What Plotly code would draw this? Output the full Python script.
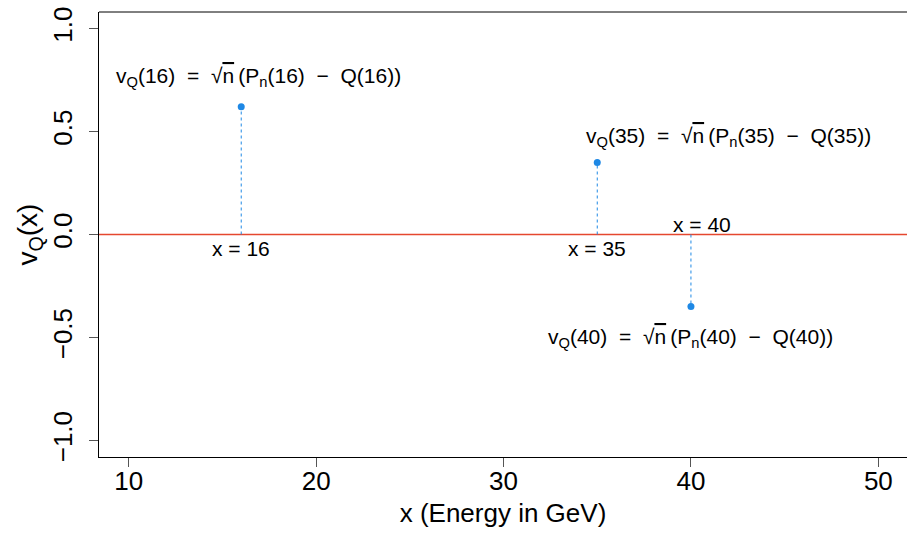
import plotly.graph_objects as go

# ---- data ----
x_points = [16, 35, 40]
v_values = [0.62, 0.35, -0.35]
x_ticks = [10, 20, 30, 40, 50]
y_ticks = [-1.0, -0.5, 0.0, 0.5, 1.0]
y_tick_labels = ["\u22121.0", "\u22120.5", "0.0", "0.5", "1.0"]
x_title = "x (Energy in GeV)"

FONT = "Liberation Sans, Arial, Helvetica, sans-serif"
BLUE = "#1E88E5"
RED = "#E5472F"

fig = go.Figure()

# dashed segments from zero to each point
for xp, vp in zip(x_points, v_values):
    fig.add_trace(go.Scatter(
        x=[xp, xp], y=[0, vp], mode="lines",
        line=dict(color=BLUE, width=1, dash="3px,3px"),
        showlegend=False, hoverinfo="skip"))

fig.add_trace(go.Scatter(
    x=x_points, y=v_values, mode="markers",
    marker=dict(color=BLUE, size=7),
    showlegend=False))

# horizontal zero line
fig.add_shape(type="line", xref="paper", yref="y", x0=0, x1=1, y0=0, y1=0,
              line=dict(color=RED, width=1.5), layer="below")
# top border of the box (right border lies just outside the canvas)
fig.add_shape(type="line", xref="paper", yref="paper", x0=0, x1=1, y0=1, y1=1,
              line=dict(color="black", width=1))

NB = "\u00a0"

def eq(v):
    return ("v<sub>Q</sub>(%d)%s=%s\u221A<span style='text-decoration:overline'>n</span>%s"
            "(P<sub>n</sub>(%d)%s\u2212%sQ(%d))" % (v, NB * 2, NB * 2, "\u2009", v, NB * 2, NB * 2, v))

# equation label positions (data coords) and x= label positions
eq_pos = [(16.9, 0.765), (41.98, 0.475), (40.0, -0.50)]
xl_pos = [(16.0, -0.066), (35.0, -0.068), (40.6, 0.05)]

for xp, (ex, ey), (lx, ly) in zip(x_points, eq_pos, xl_pos):
    fig.add_annotation(x=ex, y=ey, text=eq(xp), showarrow=False,
                       font=dict(family=FONT, size=21, color="black"),
                       xanchor="center", yanchor="middle")
    fig.add_annotation(x=lx, y=ly, text="x = %d" % xp, showarrow=False,
                       font=dict(family=FONT, size=21, color="black"),
                       xanchor="center", yanchor="middle")

fig.update_layout(
    width=907, height=533,
    margin=dict(l=99, r=0, t=12, b=76),
    paper_bgcolor="white", plot_bgcolor="white",
    font=dict(family=FONT, color="black"),
    xaxis=dict(
        range=[8.41, 51.53], tickvals=x_ticks, ticktext=[str(t) for t in x_ticks],
        showgrid=False, zeroline=False, showline=True, linecolor="black", linewidth=1,
        ticks="outside", ticklen=9, tickcolor="#555", tickwidth=1,
        ticklabelstandoff=-8,
        tickfont=dict(family=FONT, size=26, color="black"),
        title=dict(text=x_title, font=dict(family=FONT, size=26, color="black"), standoff=8),
    ),
    yaxis=dict(
        range=[-1.08, 1.08], tickvals=y_ticks, ticktext=y_tick_labels,
        tickangle=-90,
        showgrid=False, zeroline=False, showline=True, linecolor="black", linewidth=1,
        ticks="outside", ticklen=9, tickcolor="#555", tickwidth=1,
        ticklabelstandoff=7,
        tickfont=dict(family=FONT, size=26, color="black"),
        title=dict(text="v<sub>Q</sub>(x)", font=dict(family=FONT, size=28, color="black"), standoff=1),
    ),
)

fig.write_html("out.html", config={"displayModeBar": False},
               post_script="document.body.style.margin='0px';")
